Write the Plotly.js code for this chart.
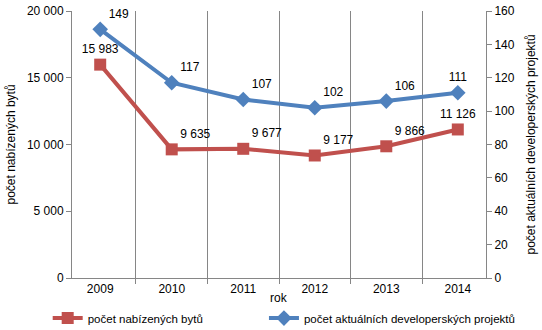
<!DOCTYPE html>
<html><head><meta charset="utf-8">
<script src="https://cdn.plot.ly/plotly-3.0.1.min.js"></script>
<style>html,body{margin:0;padding:0;background:#fff}#c{width:542px;height:330px}</style>
</head><body><div id="c"></div>
<script>
const years = ['2009','2010','2011','2012','2013','2014'];
const flats = [15983, 9635, 9677, 9177, 9866, 11126];
const projects = [149, 117, 107, 102, 106, 111];
const flatsName = 'počet nabízených bytů';
const projName = 'počet aktuálních developerských projektů';
const xTitle = 'rok';
const leftTicks = [0, 5000, 10000, 15000, 20000];
const rightTicks = [0, 20, 40, 60, 80, 100, 120, 140, 160];

function fmt(v){return String(v).replace(/\B(?=(\d{3})+(?!\d))/g,' ');}
const font = {family:'Liberation Sans, Arial, sans-serif', size:12, color:'#000'};
const small = {family:'Liberation Sans, Arial, sans-serif', size:11.5, color:'#000'};

const traces = [
 {x:years, y:flats, name:flatsName, type:'scatter', mode:'lines+markers+text', legend:'legend',
  line:{color:'#C0504D', width:4}, marker:{symbol:'square', size:12, color:'#C0504D'},
  text:flats.map(fmt), textposition:['top center','top right','top right','top right','top right','top center'],
  textfont:font, cliponaxis:false, hoverinfo:'none'},
 {x:years, y:projects, name:projName, type:'scatter', mode:'lines+markers+text', yaxis:'y2', legend:'legend2',
  line:{color:'#4F81BD', width:4}, marker:{symbol:'diamond', size:12, color:'#4F81BD'},
  text:projects.map(String), textposition:['top right','top right','top right','top right','top right','top center'],
  textfont:font, cliponaxis:false, hoverinfo:'none'}
];
const layout = {
 width:542, height:330, margin:{l:72, r:56, t:11, b:52, autoexpand:false},
 paper_bgcolor:'#fff', plot_bgcolor:'#fff', font:font, separators:', ',
 showlegend:true,
 legend:{xref:'container', yref:'container', x:0.088, y:0.036, xanchor:'left', yanchor:'middle', font:small, itemwidth:30, bgcolor:'rgba(0,0,0,0)'},
 legend2:{xref:'container', yref:'container', x:0.487, y:0.036, xanchor:'left', yanchor:'middle', font:small, itemwidth:30, bgcolor:'rgba(0,0,0,0)'},
 xaxis:{type:'category', tickson:'boundaries', showgrid:true, gridcolor:'#868686', gridwidth:1,
  showline:true, linecolor:'#868686', ticks:'outside', ticklen:5, tickcolor:'#868686',
  tickfont:font, fixedrange:true},
 yaxis:{range:[0,20000], tickvals:leftTicks, ticktext:leftTicks.map(fmt), showgrid:false, zeroline:false,
  showline:true, linecolor:'#868686', ticks:'outside', ticklen:5, tickcolor:'#868686', tickfont:font},
 yaxis2:{range:[0,160], tickvals:rightTicks, overlaying:'y', side:'right', showgrid:false, zeroline:false,
  showline:true, linecolor:'#868686', ticks:'outside', ticklen:5, tickcolor:'#868686', tickfont:font},
 annotations:[
  {text:flatsName, xref:'paper', yref:'paper', x:0, y:0.5, xanchor:'center', yanchor:'middle',
   xshift:-62, textangle:-90, showarrow:false, font:font},
  {text:projName, xref:'paper', yref:'paper', x:1, y:0.5, xanchor:'center', yanchor:'middle',
   xshift:44, textangle:-90, showarrow:false, font:font},
  {text:xTitle, xref:'paper', yref:'paper', x:0.5, y:0, xanchor:'center', yanchor:'middle',
   yshift:-20, showarrow:false, font:font}
 ]
};
Plotly.newPlot('c', traces, layout, {displayModeBar:false, staticPlot:true});
</script></body></html>
